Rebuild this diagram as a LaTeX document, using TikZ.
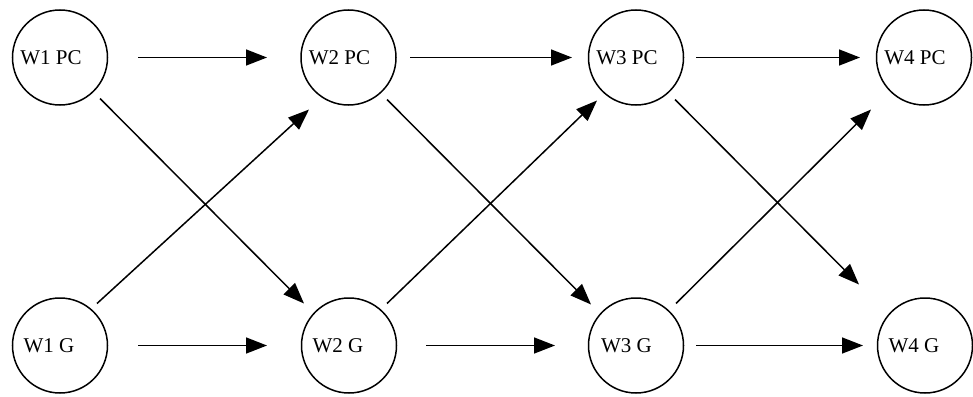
\documentclass[tikz,border=0pt]{standalone}
\usepackage{fontspec}
\setmainfont{Liberation Serif}
\usetikzlibrary{arrows.meta}
\begin{document}
\begin{tikzpicture}[x=1pt,y=-1pt,
  wnode/.style={draw, circle, line width=1.5pt, minimum size=95pt, inner sep=0pt,
    font=\fontsize{21}{24}\selectfont},
  edge/.style={line width=1.5pt, -{Triangle[length=21pt,width=16pt]}}]
\useasboundingbox (0,0) rectangle (973,396);
\node[wnode] (w1pc) at (60,57.5) {W1 PC\kern18pt};
\node[wnode] (w2pc) at (348.5,57.5) {W2 PC\kern18pt};
\node[wnode] (w3pc) at (636,57.5) {W3 PC\kern18pt};
\node[wnode] (w4pc) at (924,57.5) {W4 PC\kern18pt};
\node[wnode] (w1g) at (60,345.5) {W1 G\kern22pt};
\node[wnode] (w2g) at (349,345.5) {W2 G\kern22pt};
\node[wnode] (w3g) at (636,345.5) {W3 G\kern19pt};
\node[wnode] (w4g) at (925,345.5) {W4 G\kern22pt};
% horizontal
\draw[edge] ([shift={(78,0)}]w1pc.center) -- ([shift={(-81.5,0)}]w2pc.center);
\draw[edge] ([shift={(61.5,0)}]w2pc.center) -- ([shift={(-64,0)}]w3pc.center);
\draw[edge] ([shift={(60,0)}]w3pc.center) -- ([shift={(-64,0)}]w4pc.center);
\draw[edge] ([shift={(78,0)}]w1g.center) -- ([shift={(-82,0)}]w2g.center);
\draw[edge] ([shift={(77,0)}]w2g.center) -- ([shift={(-81,0)}]w3g.center);
\draw[edge] ([shift={(60,0)}]w3g.center) -- ([shift={(-62,0)}]w4g.center);
% diagonals
\draw[edge] ([shift={(40,41)}]w1pc.center) -- ([shift={(-45,-42)}]w2g.center);
\draw[edge] ([shift={(37,-42)}]w1g.center) -- ([shift={(-39.5,52)}]w2pc.center);
\draw[edge] ([shift={(38.5,42)}]w2pc.center) -- ([shift={(-45,-41)}]w3g.center);
\draw[edge] ([shift={(38,-42)}]w2g.center) -- ([shift={(-39,43)}]w3pc.center);
\draw[edge] ([shift={(39,42)}]w3pc.center) -- ([shift={(-66,-61)}]w4g.center);
\draw[edge] ([shift={(40,-42)}]w3g.center) -- ([shift={(-53,52)}]w4pc.center);
\end{tikzpicture}
\end{document}
